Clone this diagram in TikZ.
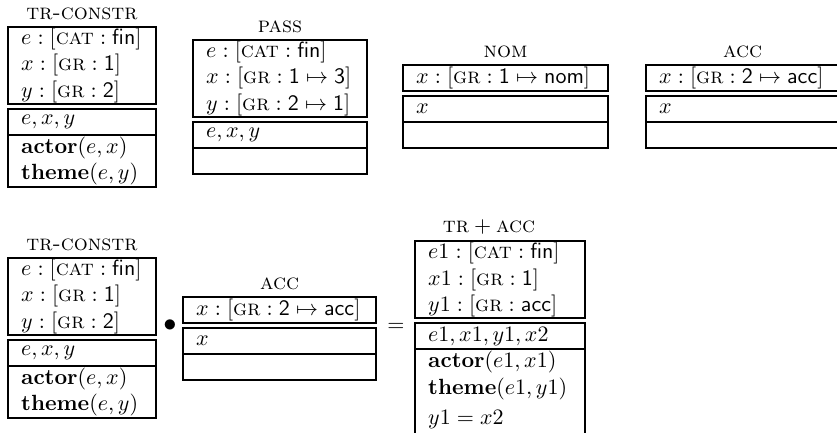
\documentclass[tikz,border=0pt]{standalone}
\usepackage{amsmath}
\usetikzlibrary{positioning}
\newcommand{\feat}[1]{\textsc{#1}}
\newcommand{\val}[1]{\textsf{#1}}
\newcommand{\pxu}{0.4545pt}
\tikzset{box/.style 2 args={draw, rectangle, anchor=north west,
                            outer sep=0pt, inner xsep=6pt, inner ysep=0pt,
                            text width=#1*\pxu-12pt, minimum height=#2*\pxu,
                            align=left, line width=0.6pt},
         drslabel/.style={inner sep=0pt},
         }

\begin{document}
\begin{tikzpicture}[x=\pxu, y=-\pxu]
    \useasboundingbox (0,0) rectangle (837,433);
    \clip (0,0) rectangle (837,433);

    % top row
    \node[box={148}{77}] (tr1) at (8,27) {$e : [\feat{cat} : \val{fin}]$\\ $x : [\feat{gr} : \val{1}]$\\ $y : [\feat{gr} : \val{2}]$};
    \node[below=2.3pt of tr1.south west, box={148}{26}] (tr2) {$e, x, y$};
    \node[below=0pt of tr2.south west, box={148}{52}] (tr3) {$\mathbf{actor}(e, x)$\\ $\mathbf{theme}(e, y)$};
    \node[drslabel, above=3pt of tr1] (trname) {\feat{tr-constr}};

    \node[box={174}{77}] (pass1) at (193,40) {$e : [\feat{cat} : \val{fin}]$\\ $x : [\feat{gr} : \val{1} \mapsto \val{3}]$\\ $y : [\feat{gr} : \val{2} \mapsto \val{1}]$};
    \node[below=2.3pt of pass1.south west, box={174}{26}] (pass2) {$e, x, y$};
    \node[below=0pt of pass2.south west, box={174}{26}] (pass3) {};
    \node[drslabel, above=3pt of pass1] (passname) {\feat{pass}};

    \node[box={205}{26}] (nom1) at (403,65) {$x : [\feat{gr} : \val{1} \mapsto \val{nom}]$};
    \node[below=2.3pt of nom1.south west, box={205}{26}] (nom2) {$x$};
    \node[below=0pt of nom2.south west, box={205}{26}] (nom3) {};
    \node[drslabel, above=3pt of nom1] (nomname) {\feat{nom}};

    \node[box={193}{26}] (acc1) at (646,65) {$x : [\feat{gr} : \val{2} \mapsto \val{acc}]$};
    \node[below=2.3pt of acc1.south west, box={193}{26}] (acc2) {$x$};
    \node[below=0pt of acc2.south west, box={193}{26}] (acc3) {};
    \node[drslabel, above=3pt of acc1] (accname) {\feat{acc}};

    % bottom row
    \node[box={148}{77}] (btr1) at (8,258) {$e : [\feat{cat} : \val{fin}]$\\ $x : [\feat{gr} : \val{1}]$\\ $y : [\feat{gr} : \val{2}]$};
    \node[below=2.3pt of btr1.south west, box={148}{26}] (btr2) {$e, x, y$};
    \node[below=0pt of btr2.south west, box={148}{52}] (btr3) {$\mathbf{actor}(e, x)$\\ $\mathbf{theme}(e, y)$};
    \node[drslabel, above=3pt of btr1] (btrname) {\feat{tr-constr}};

    \node[drslabel, font=\large] (dot) at (170,326) {$\bullet$};

    \node[box={193}{26}] (bacc1) at (183,297) {$x : [\feat{gr} : \val{2} \mapsto \val{acc}]$};
    \node[below=2.3pt of bacc1.south west, box={193}{26}] (bacc2) {$x$};
    \node[below=0pt of bacc2.south west, box={193}{26}] (bacc3) {};
    \node[drslabel, above=3pt of bacc1] (baccname) {\feat{acc}};

    \node[drslabel] (eq) at (396,327) {$=$};

    \node[box={170}{77}] (res1) at (415,241) {$e1 : [\feat{cat} : \val{fin}]$\\ $x1 : [\feat{gr} : \val{1}]$\\ $y1 : [\feat{gr} : \val{acc}]$};
    \node[below=2.3pt of res1.south west, box={170}{26}] (res2) {$e1, x1, y1, x2$};
    \node[below=0pt of res2.south west, box={170}{0}, inner ysep=1pt, text depth=30pt] (res3) {$\mathbf{actor}(e1, x1)$\\ $\mathbf{theme}(e1, y1)$\\[2pt] $y1 = x2$};
    \node[drslabel, above=3pt of res1, xshift=-5pt] (resname) {$\feat{tr} + \feat{acc}$};
\end{tikzpicture}
\end{document}
